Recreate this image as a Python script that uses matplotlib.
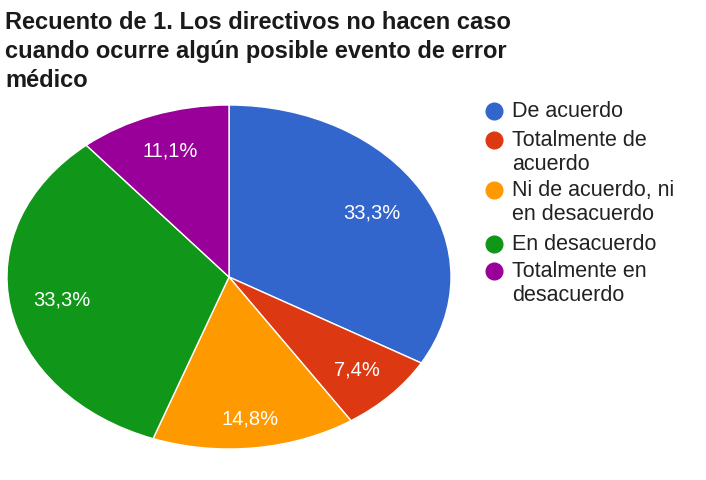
import numpy as np
import matplotlib
matplotlib.use("Agg")
import matplotlib.pyplot as plt
from matplotlib.lines import Line2D

plt.rcParams['font.family'] = ['Liberation Sans', 'DejaVu Sans']

title = "Recuento de 1. Los directivos no hacen caso\ncuando ocurre algún posible evento de error\nmédico"
categories = ["De acuerdo", "Totalmente de\nacuerdo", "Ni de acuerdo, ni\nen desacuerdo",
              "En desacuerdo", "Totalmente en\ndesacuerdo"]
values = [33.3, 7.4, 14.8, 33.3, 11.1]
colors = ["#3366CC", "#DC3912", "#FF9900", "#109618", "#990099"]

W, H = 706, 480
fig = plt.figure(figsize=(W / 100, H / 100), dpi=100)
fig.patch.set_facecolor("white")

# pie area (pixel box, converted to figure fractions); aspect left free so the pie fills it
x0, x1, y0, y1 = 7, 451, 105, 449
ax = fig.add_axes([x0 / W, 1 - y1 / H, (x1 - x0) / W, (y1 - y0) / H])
wedges, texts = ax.pie(
    values, colors=colors, startangle=90, counterclock=False,
    labels=[f"{v:.1f}%".replace(".", ",") for v in values],
    wedgeprops=dict(edgecolor="white", linewidth=1.0),
    textprops=dict(color="white", fontsize=14.5, ha="center", va="center"),
)
# radial placement of each percentage label inside its slice
label_r = [0.745, 0.79, 0.83, 0.765, 0.78]
for w, t, r in zip(wedges, texts, label_r):
    ang = np.deg2rad((w.theta1 + w.theta2) / 2)
    t.set_position((r * np.cos(ang), r * np.sin(ang)))
ax.set_aspect("auto")
ax.set_xlim(-1.0, 1.0)
ax.set_ylim(-1.0, 1.0)
ax.axis("off")

fig.text(5 / W, 1 - 11 / H, title, fontsize=17, fontweight="bold", color="#1a1a1a",
         ha="left", va="top", linespacing=1.33)

# legend
leg_y = [111, 140, 190, 244, 271]
for label, c, y in zip(categories, colors, leg_y):
    fig.add_artist(Line2D([494 / W], [1 - y / H], marker="o", markersize=12,
                          color=c, transform=fig.transFigure))
    fig.text(512 / W, 1 - (y - 10) / H, label, fontsize=15.5, color="#222222",
             ha="left", va="top", linespacing=1.2)

fig.savefig("out.png", dpi=100)
